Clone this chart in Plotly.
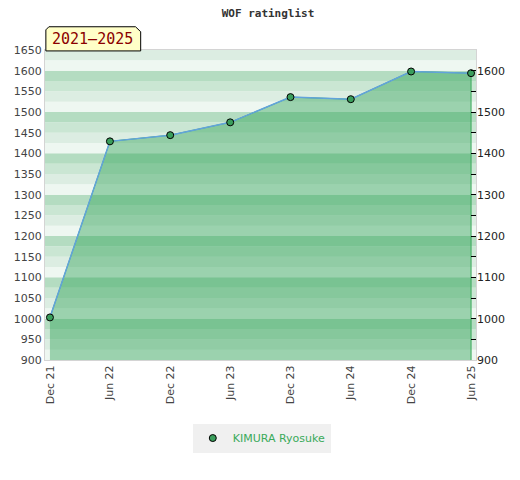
import plotly.graph_objects as go

# rating history
dates = ["2021-12-01", "2022-06-01", "2022-12-01", "2023-06-01",
         "2023-12-01", "2024-06-01", "2024-12-01", "2025-06-01"]
ratings = [1003, 1429, 1444, 1475, 1536, 1531, 1598, 1594]
player = "KIMURA Ryosuke"
period = "2021–2025"

y_min, y_max = 900, 1650
band_colors = ["#eef7f1", "#dcede2", "#cae6d3", "#b4dcc1"]

fig = go.Figure()

# filled area under the curve, closed down below the axis so the edges show
fig.add_trace(go.Scatter(
    x=dates + [dates[-1], dates[0]],
    y=ratings + [y_min - 100, y_min - 100],
    mode="lines", fill="toself",
    fillcolor="rgba(40,160,80,0.42)",
    line=dict(color="#3aaa5a", width=1),
    showlegend=False, hoverinfo="skip"))

fig.add_trace(go.Scatter(
    x=dates, y=ratings, mode="lines",
    line=dict(color="#62a3dc", width=1.5),
    showlegend=False, hoverinfo="skip"))

fig.add_trace(go.Scatter(
    x=dates, y=ratings, mode="markers", name=player,
    marker=dict(color="#3a9e5c", size=7, line=dict(color="black", width=1))))

# dummy trace for right-hand axis
fig.add_trace(go.Scatter(x=[dates[0]], y=[ratings[0]], yaxis="y2",
                         mode="markers", marker=dict(opacity=0),
                         showlegend=False, hoverinfo="skip"))

# striped background, 25 points per band
shapes = []
for v in range(y_min, y_max, 25):
    shapes.append(dict(type="rect", xref="paper", x0=0, x1=1, yref="y",
                       y0=v, y1=v + 25, fillcolor=band_colors[(v // 25) % 4],
                       line=dict(width=0), layer="below"))

# little yellow tab with the period
shapes.append(dict(type="path", xref="paper", yref="paper",
                   path="M 0.002,0.997 L 0.002,1.065 L 0.009,1.075 L 0.21,1.075 "
                        "L 0.222,1.059 L 0.222,0.997 Z",
                   fillcolor="#ffffc8", line=dict(color="black", width=1)))

fig.update_layout(
    width=520, height=480,
    margin=dict(l=37, r=52, t=42, b=128, autoexpand=False),
    paper_bgcolor="white", plot_bgcolor="white",
    font=dict(family="DejaVu Sans", size=11, color="#444"),
    title=dict(text="<b>WOF ratinglist</b>", x=0.5, xanchor="center",
               y=0.989, yanchor="middle",
               font=dict(family="DejaVu Sans Mono", size=11, color="#333")),
    shapes=shapes,
    annotations=[dict(text=period, xref="paper", yref="paper",
                      x=0.111, y=1.036, xanchor="center", yanchor="middle",
                      showarrow=False,
                      font=dict(family="DejaVu Sans Mono", size=15, color="#8b0000"))],
    xaxis=dict(type="date", range=["2021-11-16", "2025-06-16"],
               tickvals=dates, tickformat="%b %y", tickangle=-90,
               showgrid=False, zeroline=False, showline=True,
               linecolor="#d4d4d4", mirror=True, ticks="", automargin=False,
               tickfont=dict(size=11, color="#444")),
    yaxis=dict(range=[y_min, y_max], dtick=50, showgrid=False, zeroline=False,
               showline=True, linecolor="#d4d4d4", mirror=True, ticks="",
               automargin=False, tickfont=dict(size=11, color="#444")),
    yaxis2=dict(range=[y_min, y_max], overlaying="y", side="right",
                tick0=900, dtick=100, showgrid=False, zeroline=False,
                showline=False, ticks="inside", ticklen=5, tickcolor="black",
                minor=dict(dtick=50, ticks="inside", ticklen=5, tickcolor="black"),
                automargin=False, tickfont=dict(size=11, color="#222")),
    legend=dict(orientation="h", x=0.503, xanchor="center", y=-0.205, yanchor="top",
                bgcolor="#f0f0f0", font=dict(size=11, color="#3aaa5a")),
    hovermode=False,
)

fig.write_html("out.html")
